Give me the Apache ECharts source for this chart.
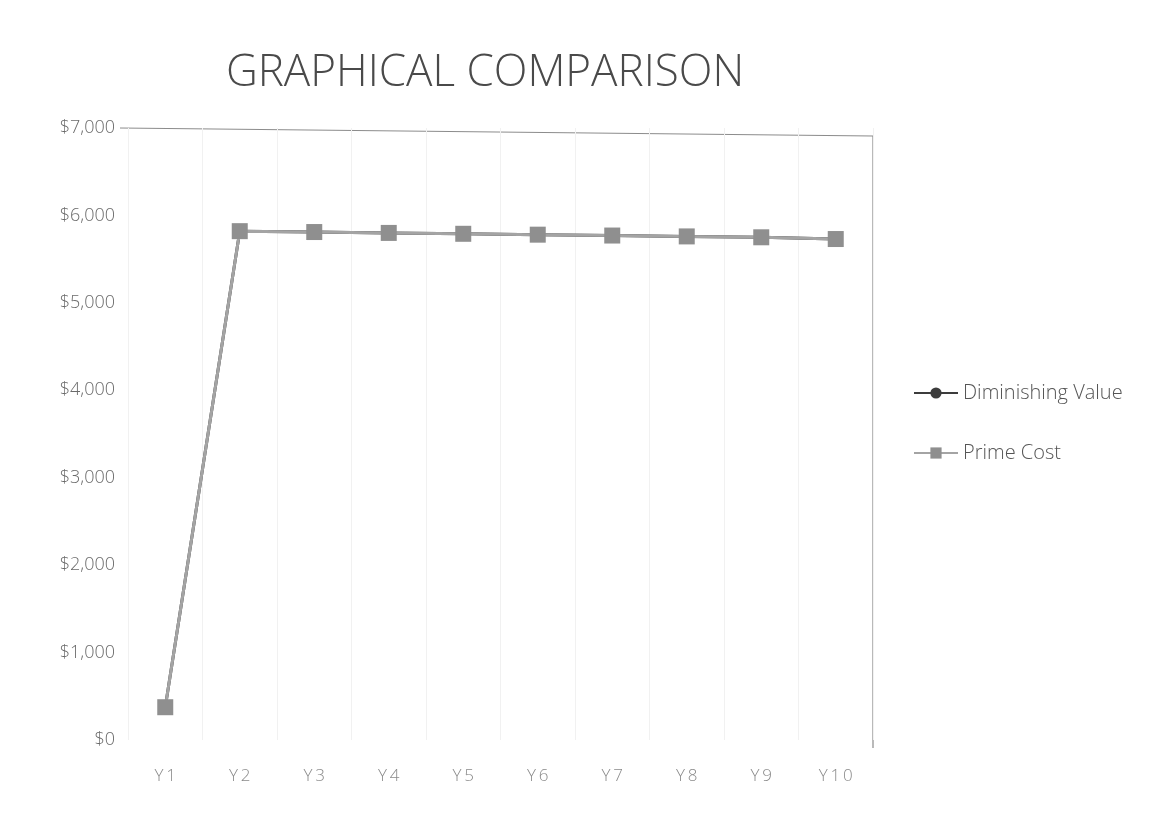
<!DOCTYPE html>
<html>
<head>
<meta charset="utf-8">
<script src="https://cdn.jsdelivr.net/npm/echarts@6/dist/echarts.min.js"></script>
<style>
  html, body { margin: 0; padding: 0; background: #fff; }
  #chart { width: 1171px; height: 818px; }
</style>
</head>
<body>
<div id="chart"></div>
<script>
const years = ["Y1", "Y2", "Y3", "Y4", "Y5", "Y6", "Y7", "Y8", "Y9", "Y10"];
const diminishingValue = [375, 5820, 5810, 5800, 5790, 5780, 5770, 5760, 5750, 5730];
const primeCost = [375, 5820, 5810, 5800, 5790, 5780, 5770, 5760, 5750, 5730];

const chart = echarts.init(document.querySelector("#chart"));
const textColor = "#6a6a6a";

chart.setOption({
  animation: false,
  title: {
    text: "GRAPHICAL COMPARISON",
    left: 480,
    top: 46,
    textAlign: "center",
    textStyle: { fontFamily: "Open Sans", fontSize: 44, fontWeight: 300, color: "#4a4a4a" },
  },
  legend: {
    orient: "vertical",
    left: 908,
    top: 378,
    itemGap: 40,
    itemWidth: 44,
    itemHeight: 14,
    textStyle: { fontFamily: "Open Sans", fontSize: 20, fontWeight: 300, color: "#555" },
    data: ["Diminishing Value", "Prime Cost"],
  },
  grid: { left: 128, right: 298, top: 128, bottom: 78, containLabel: false },
  xAxis: {
    type: "category",
    data: years,
    axisLine: { show: false },
    axisTick: { show: false },
    axisLabel: {
      fontFamily: "Open Sans",
      fontSize: 17,
      fontWeight: 300,
      color: "#8a8a8a",
      margin: 28,
      formatter: (v) => v.split("").join("\u2009"),
    },
    splitLine: { show: true, lineStyle: { color: "#f1f1f1", width: 1 } },
  },
  yAxis: {
    type: "value",
    min: 0,
    max: 7000,
    interval: 1000,
    position: "left",
    axisLine: { show: false },
    axisTick: { show: false },
    splitLine: { show: false },
    axisLabel: {
      fontFamily: "Open Sans",
      fontSize: 18,
      fontWeight: 300,
      color: textColor,
      margin: 13,
      formatter: (v) => "$" + v.toLocaleString("en-US"),
    },
  },
  graphic: [
    {
      type: "polyline",
      shape: { points: [[120, 128], [873, 136], [873, 748]] },
      style: { stroke: "#8c8c8c", lineWidth: 1.2, fill: null },
    },
  ],
  series: [
    {
      name: "Diminishing Value",
      type: "line",
      data: diminishingValue,
      symbol: "circle",
      symbolSize: 8,
      color: "#3c3c3c",
      lineStyle: { width: 3, color: "#3c3c3c" },
      itemStyle: { color: "#3c3c3c" },
      z: 2,
    },
    {
      name: "Prime Cost",
      type: "line",
      data: primeCost,
      symbol: "rect",
      symbolSize: 16,
      color: "#8f8f8f",
      lineStyle: { width: 3, color: "#a4a4a4" },
      itemStyle: { color: "#8f8f8f" },
      z: 3,
    },
  ],
});
</script>
</body>
</html>
